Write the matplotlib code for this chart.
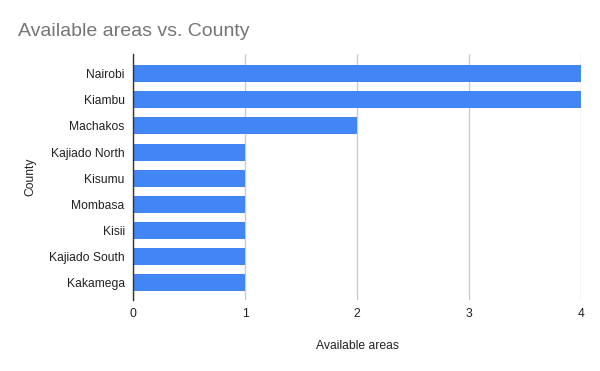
import matplotlib
matplotlib.use("Agg")
import matplotlib.pyplot as plt

counties = ["Nairobi", "Kiambu", "Machakos", "Kajiado North", "Kisumu",
            "Mombasa", "Kisii", "Kajiado South", "Kakamega"]
areas = [4, 4, 2, 1, 1, 1, 1, 1, 1]
xticks = [0, 1, 2, 3, 4]

plt.rcParams['font.family'] = ['Liberation Sans', 'DejaVu Sans']

W, H = 600, 371
fig = plt.figure(figsize=(W / 100, H / 100), dpi=100)
left, right, top, bottom = 133, 581, 54, 300
ax = fig.add_axes([left / W, 1 - bottom / H, (right - left) / W, (bottom - top) / H])

ypos = list(range(len(counties)))
ax.barh(ypos, areas, height=0.65, color="#4285F4", zorder=3)
ax.set_ylim(len(counties) - 1 + 0.65, -0.745)
ax.set_xlim(0, 4)
ax.set_yticks(ypos)
ax.set_yticklabels(counties)
ax.set_xticks(xticks)
ax.set_xticklabels([str(t) for t in xticks])

ax.grid(axis="x", color="#cccccc", linewidth=1, zorder=0)
for s in ["top", "right", "bottom"]:
    ax.spines[s].set_visible(False)
ax.spines["left"].set_color("#333333")
ax.spines["left"].set_linewidth(1)
ax.spines["left"].set_zorder(4)
ax.tick_params(axis="both", length=0, labelsize=8.7, colors="#222222")
ax.tick_params(axis="y", pad=6)
ax.tick_params(axis="x", pad=6)

ax.set_xlabel("Available areas", fontsize=8.7, color="#222222", labelpad=14)
ax.set_ylabel("County", fontsize=8.7, color="#222222", labelpad=9)

fig.text(18 / W, 1 - 32 / H, "Available areas vs. County", fontsize=14,
         color="#757575", ha="left", va="center")

fig.savefig("out.png", dpi=100)
